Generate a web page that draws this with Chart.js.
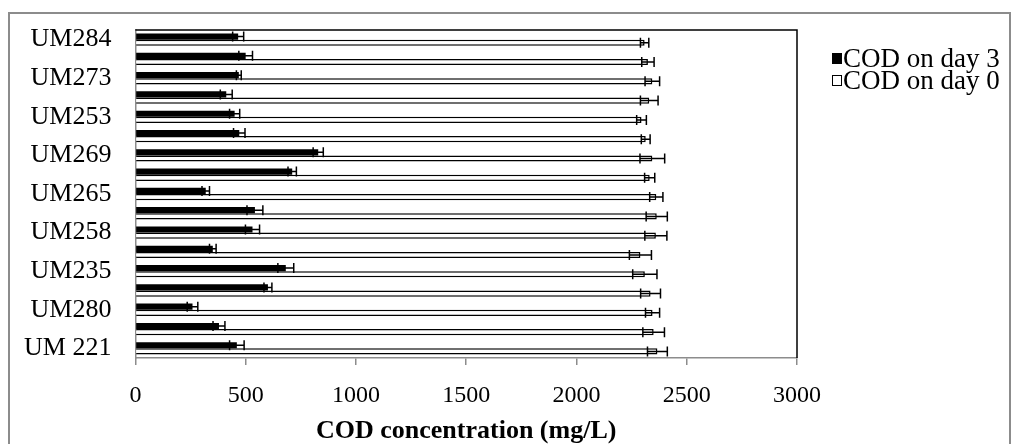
<!DOCTYPE html>
<html>
<head>
<meta charset="utf-8">
<title>COD</title>
<script src="https://cdn.jsdelivr.net/npm/chart.js@4.4.0/dist/chart.umd.min.js"></script>
<style>
  html, body { margin: 0; padding: 0; background: #fff; }
  #caixa { width: 1020px; height: 444px; }
</style>
</head>
<body>
<div id="caixa"><canvas id="grafico_cod"></canvas></div>
<script>
// isolados de cima para baixo (so um sim, um nao recebe nome no eixo)
var isolados = ['UM284', '', 'UM273', '', 'UM253', '', 'UM269', '', 'UM265', '', 'UM258', '', 'UM235', '', 'UM280', '', 'UM 221'];

// COD no dia 3 (mg/L) e desvio
var codDia3  = [466, 500, 469, 412, 450, 471, 829, 711, 319, 542, 531, 351, 682, 601, 259, 379, 460];
var erroDia3 = [25, 31, 11, 27, 23, 26, 23, 19, 17, 36, 32, 15, 36, 18, 24, 27, 33];

// COD no dia 0 (mg/L) e desvio
var codDia0  = [2309, 2324, 2344, 2330, 2295, 2314, 2344, 2332, 2362, 2364, 2360, 2290, 2310, 2336, 2345, 2350, 2367];
var erroDia0 = [19, 28, 33, 40, 22, 20, 56, 23, 30, 48, 50, 50, 55, 45, 32, 49, 45];

var ticksX = [0, 500, 1000, 1500, 2000, 2500, 3000];

var CINZA = '#8c8c8c';
Chart.defaults.font.family = '"Liberation Serif", "Times New Roman", serif';
Chart.defaults.color = '#000';

// fundo branco e moldura cinza em volta de tudo
var moldura = {
    id: 'moldura',
    beforeDraw: function(chart){
        var ctx = chart.ctx;
        ctx.save();
        ctx.fillStyle = '#fff';
        ctx.fillRect(0, 0, chart.width, chart.height);
        ctx.strokeStyle = CINZA;
        ctx.lineWidth = 2;
        ctx.strokeRect(9, 13, chart.width - 19, chart.height + 20);
        ctx.restore();
    },
    beforeDatasetsDraw: function(chart){
        // borda preta da area de plotagem (topo e direita)
        var a = chart.chartArea;
        var ctx = chart.ctx;
        ctx.save();
        ctx.strokeStyle = '#000';
        ctx.lineWidth = 1.5;
        ctx.beginPath();
        ctx.moveTo(a.left, a.top);
        ctx.lineTo(a.right, a.top);
        ctx.lineTo(a.right, a.bottom);
        ctx.stroke();
        ctx.restore();
    }
};

// barras de erro desenhadas sobre cada barra
var barrasDeErro = {
    id: 'barrasDeErro',
    afterDatasetsDraw: function(chart){
        var ctx = chart.ctx;
        var x = chart.scales.x;
        ctx.save();
        ctx.strokeStyle = '#000';
        ctx.lineWidth = 1.5;
        chart.data.datasets.forEach(function(ds, d){
            var meta = chart.getDatasetMeta(d);
            meta.data.forEach(function(barra, i){
                var ini = x.getPixelForValue(ds.data[i] - ds.erros[i]);
                var fim = x.getPixelForValue(ds.data[i] + ds.erros[i]);
                var y = barra.y;
                ctx.beginPath();
                ctx.moveTo(ini, y);
                ctx.lineTo(fim, y);
                ctx.moveTo(ini, y - 5);
                ctx.lineTo(ini, y + 5);
                ctx.moveTo(fim, y - 5);
                ctx.lineTo(fim, y + 5);
                ctx.stroke();
            });
        });
        ctx.restore();
    }
};

// legenda a direita, quadradinho colado no texto
var legenda = {
    id: 'legenda',
    afterDraw: function(chart){
        var ctx = chart.ctx;
        var a = chart.chartArea;
        var x0 = a.right + 35;
        ctx.save();
        ctx.font = '27px "Liberation Serif"';
        ctx.textBaseline = 'middle';
        ctx.textAlign = 'left';
        chart.data.datasets.forEach(function(ds, i){
            var y = a.top + 29 + i * 22;
            ctx.fillStyle = ds.backgroundColor;
            ctx.fillRect(x0, y - 6, 10, 11);
            ctx.strokeStyle = '#000';
            ctx.lineWidth = 1;
            ctx.strokeRect(x0 + 0.5, y - 5.5, 9, 10);
            ctx.fillStyle = '#000';
            ctx.fillText(ds.label, x0 + 11, y + 1);
        });
        ctx.restore();
    }
};

var grafico = document.getElementById('grafico_cod').getContext('2d');

new Chart(grafico, {
    type: 'bar',
    data: {
        labels: isolados,
        datasets: [{
            label: 'COD on day 3',
            data: codDia3,
            erros: erroDia3,
            backgroundColor: '#000',
            borderColor: '#000',
            borderWidth: 0,
            categoryPercentage: 0.64,
            barPercentage: 1
        }, {
            label: 'COD on day 0',
            data: codDia0,
            erros: erroDia0,
            backgroundColor: '#fff',
            borderColor: '#000',
            borderWidth: 1.5,
            categoryPercentage: 0.64,
            barPercentage: 1
        }]
    },
    options: {
        indexAxis: 'y',
        responsive: true,
        maintainAspectRatio: false,
        animation: false,
        layout: {
            padding: { left: 0, right: 223, top: 30, bottom: 0 }
        },
        plugins: {
            legend: { display: false },
            tooltip: { enabled: false }
        },
        scales: {
            x: {
                min: 0,
                max: 3000,
                afterBuildTicks: function(axis){
                    axis.ticks = ticksX.map(function(v){ return { value: v }; });
                },
                afterFit: function(axis){
                    axis.height = 86;
                },
                grid: {
                    display: true,
                    drawOnChartArea: false,
                    drawTicks: true,
                    tickLength: 7,
                    color: CINZA,
                    lineWidth: 1.5
                },
                border: { display: true, color: CINZA, width: 1.5 },
                ticks: {
                    padding: 16,
                    maxRotation: 0,
                    font: { size: 24 },
                    callback: function(v){ return String(v); }
                },
                title: {
                    display: true,
                    text: 'COD concentration (mg/L)',
                    padding: { top: 10, bottom: 0 },
                    font: { size: 26, weight: 'bold', lineHeight: 1 }
                }
            },
            y: {
                afterFit: function(axis){
                    axis.paddingTop = 0;
                    axis.paddingBottom = 0;
                },
                grid: { display: false, drawTicks: false },
                border: { display: true, color: CINZA, width: 1.5 },
                ticks: {
                    autoSkip: false,
                    padding: 24,
                    font: { size: 26 }
                }
            }
        }
    },
    plugins: [moldura, barrasDeErro, legenda]
});
</script>
</body>
</html>
